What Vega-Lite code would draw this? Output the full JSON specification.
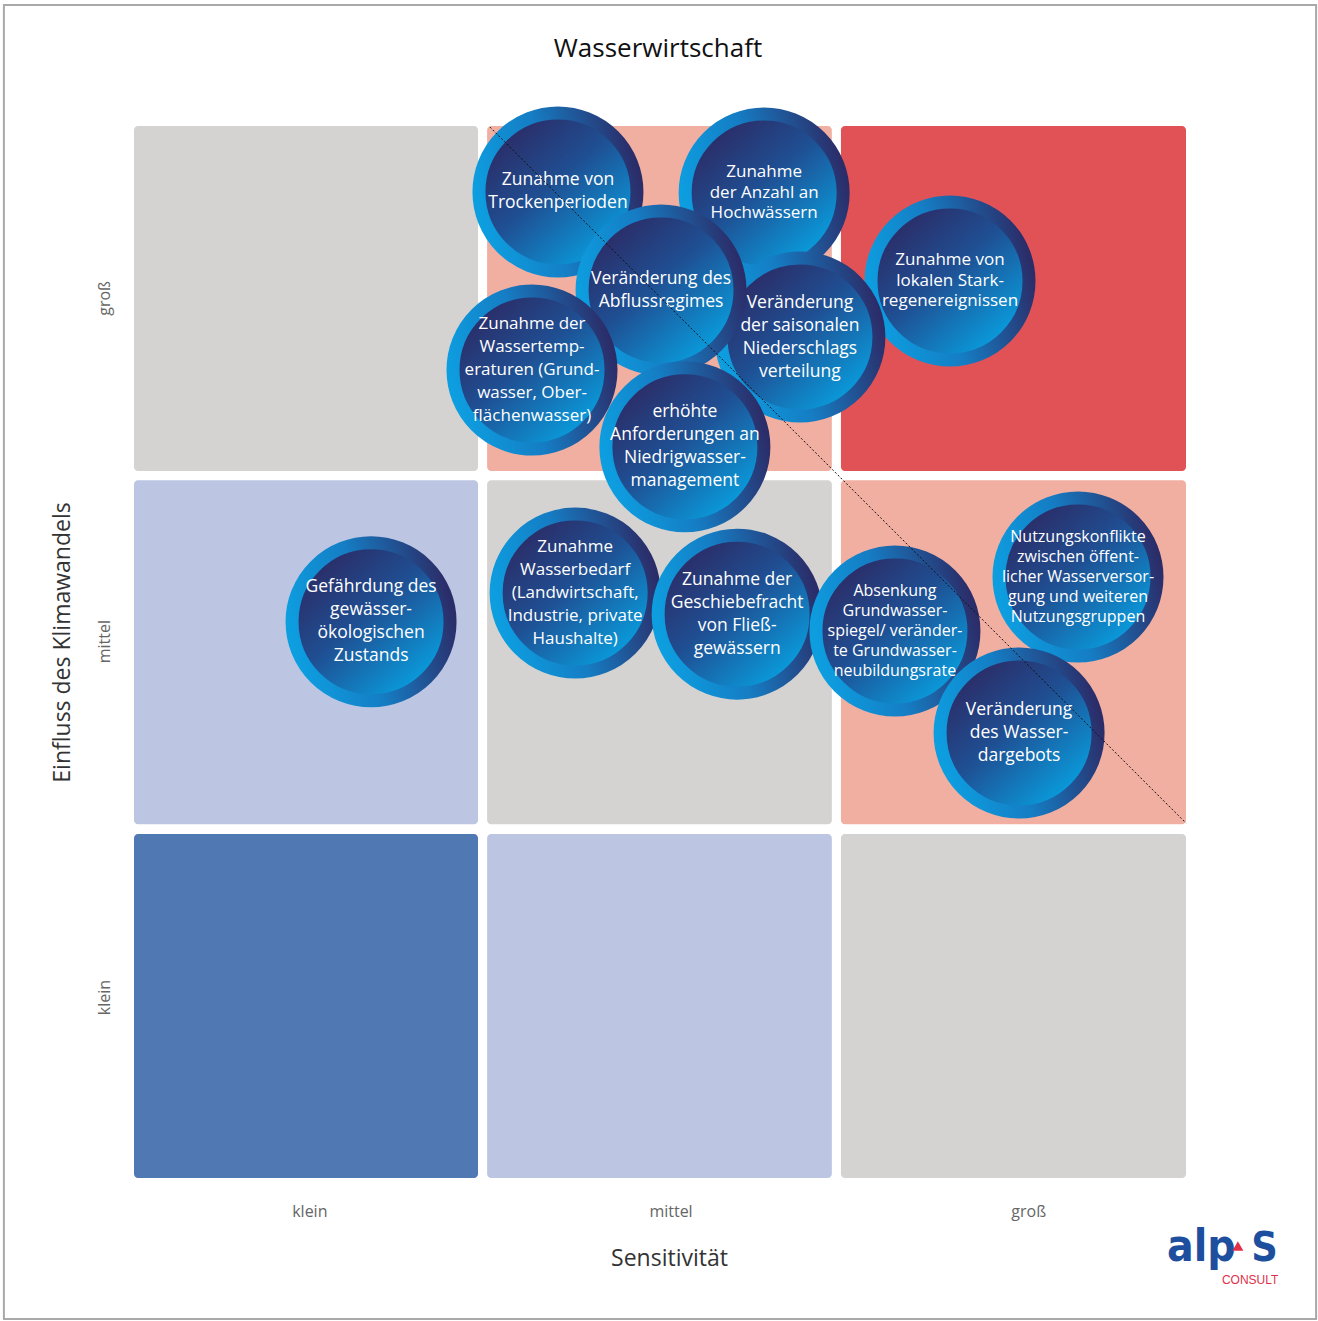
{
  "$schema": "https://vega.github.io/schema/vega-lite/v6.json",
  "autosize": {"type": "none"},
  "width": 1052,
  "height": 1052,
  "padding": {"left": 134, "top": 126, "right": 132, "bottom": 143},
  "background": "#ffffff",
  "title": {"text": "Wasserwirtschaft", "font": "Open Sans", "fontSize": 26, "fontWeight": "normal", "color": "#111111", "offset": -58, "anchor": "middle", "dx": -2},
  "config": {"view": {"stroke": null}},
  "datasets": {
    "felder": [
      {"x1": 0, "x2": 0.981, "y1": 2.016, "y2": 3.0, "stufe": "mittel"},
      {"x1": 1.007, "x2": 1.99, "y1": 2.016, "y2": 3.0, "stufe": "erhöht"},
      {"x1": 2.016, "x2": 3.0, "y1": 2.016, "y2": 3.0, "stufe": "hoch"},
      {"x1": 0, "x2": 0.981, "y1": 1.009, "y2": 1.99, "stufe": "gering"},
      {"x1": 1.007, "x2": 1.99, "y1": 1.009, "y2": 1.99, "stufe": "mittel"},
      {"x1": 2.016, "x2": 3.0, "y1": 1.009, "y2": 1.99, "stufe": "erhöht"},
      {"x1": 0, "x2": 0.981, "y1": 0, "y2": 0.981, "stufe": "sehr gering"},
      {"x1": 1.007, "x2": 1.99, "y1": 0, "y2": 0.981, "stufe": "gering"},
      {"x1": 2.016, "x2": 3.0, "y1": 0, "y2": 0.981, "stufe": "mittel"}
    ],
    "kreise": [
      {"x": 1.209, "y": 2.812, "kompakt": 0, "zeilen": 2, "label": "Zunahme von\nTrockenperioden"},
      {"x": 1.797, "y": 2.809, "kompakt": 1, "zeilen": 3, "label": "Zunahme\nder Anzahl an\nHochwässern"},
      {"x": 2.327, "y": 2.558, "kompakt": 1, "zeilen": 3, "label": "Zunahme von\nlokalen Stark-\nregenereignissen"},
      {"x": 1.899, "y": 2.398, "kompakt": 0, "zeilen": 4, "label": "Veränderung\nder saisonalen\nNiederschlags\nverteilung"},
      {"x": 1.503, "y": 2.532, "kompakt": 0, "zeilen": 2, "label": "Veränderung des\nAbflussregimes"},
      {"x": 1.135, "y": 2.304, "kompakt": 0, "zeilen": 5, "label": "Zunahme der\nWassertemp-\neraturen (Grund-\nwasser, Ober-\nflächenwasser)"},
      {"x": 1.571, "y": 2.085, "kompakt": 0, "zeilen": 4, "label": "erhöhte\nAnforderungen an\nNiedrigwasser-\nmanagement"},
      {"x": 0.676, "y": 1.586, "kompakt": 0, "zeilen": 4, "label": "Gefährdung des\ngewässer-\nökologischen\nZustands"},
      {"x": 1.258, "y": 1.668, "kompakt": 0, "zeilen": 5, "label": "Zunahme\nWasserbedarf\n(Landwirtschaft,\nIndustrie, private\nHaushalte)"},
      {"x": 1.72, "y": 1.608, "kompakt": 0, "zeilen": 4, "label": "Zunahme der\nGeschiebefracht\nvon Fließ-\ngewässern"},
      {"x": 2.17, "y": 1.56, "kompakt": 1, "zeilen": 5, "label": "Absenkung\nGrundwasser-\nspiegel/ veränder-\nte Grundwasser-\nneubildungsrate"},
      {"x": 2.692, "y": 1.714, "kompakt": 1, "zeilen": 5, "label": "Nutzungskonflikte\nzwischen öffent-\nlicher Wasserversor-\ngung und weiteren\nNutzungsgruppen"},
      {"x": 2.524, "y": 1.269, "kompakt": 0, "zeilen": 3, "label": "Veränderung\ndes Wasser-\ndargebots"}
    ],
    "diagonale": [
      {"x1": 1.015, "y1": 2.997, "x2": 3.0, "y2": 1.012}
    ],
    "rahmen": [
      {"x1": -0.371, "x2": 3.371, "y1": -0.402, "y2": 3.345}
    ],
    "logo": [
      {"teil": "alp", "x": 2.946, "y": -0.237},
      {"teil": "S", "x": 3.186, "y": -0.237},
      {"teil": "dreieck", "x": 3.148, "y": -0.194},
      {"teil": "CONSULT", "x": 3.183, "y": -0.302}
    ]
  },
  "layer": [
    {
      "data": {"name": "rahmen"},
      "mark": {"type": "rect", "filled": false, "stroke": "#a9a9a9", "strokeWidth": 2, "clip": false},
      "encoding": {
        "x": {"field": "x1", "type": "quantitative", "scale": {"domain": [0, 3], "nice": false, "zero": false},
          "axis": {"title": "Sensitivität", "values": [0.5, 1.53, 2.55], "labelExpr": "datum.value < 1 ? 'klein' : datum.value < 2 ? 'mittel' : 'groß'",
            "ticks": false, "domain": false, "grid": false, "labelPadding": 25, "labelFont": "Open Sans", "labelFontSize": 16, "labelColor": "#666666",
            "titleFont": "Open Sans", "titleFontSize": 23, "titleFontWeight": "normal", "titleColor": "#333333", "titlePadding": 28, "titleX": 535}},
        "x2": {"field": "x2"},
        "y": {"field": "y1", "type": "quantitative", "scale": {"domain": [0, 3], "nice": false, "zero": false},
          "axis": {"title": "Einfluss des Klimawandels", "values": [0.516, 1.531, 2.51], "labelExpr": "datum.value < 1 ? 'klein' : datum.value < 2 ? 'mittel' : 'groß'",
            "ticks": false, "domain": false, "grid": false, "labelAngle": -90, "labelAlign": "center", "labelBaseline": "bottom", "labelPadding": 22,
            "labelFont": "Open Sans", "labelFontSize": 16, "labelColor": "#666666",
            "titleFont": "Open Sans", "titleFontSize": 23, "titleFontWeight": "normal", "titleColor": "#333333", "titlePadding": 22, "titleY": 516}},
        "y2": {"field": "y2"}
      }
    },
    {
      "data": {"name": "felder"},
      "mark": {"type": "rect", "cornerRadius": 4},
      "encoding": {
        "x": {"field": "x1", "type": "quantitative"},
        "x2": {"field": "x2"},
        "y": {"field": "y1", "type": "quantitative"},
        "y2": {"field": "y2"},
        "color": {"field": "stufe", "type": "nominal", "legend": null,
          "scale": {"domain": ["sehr gering", "gering", "mittel", "erhöht", "hoch"], "range": ["#5079b4", "#bcc6e3", "#d4d3d2", "#f1afa2", "#e15257"]}}
      }
    },
    {
      "data": {"name": "kreise"},
      "mark": {"type": "point", "shape": "circle", "filled": true, "opacity": 1, "size": 24964, "strokeWidth": 13,
        "fill": {"gradient": "linear", "x1": 0.15, "y1": 0.1, "x2": 0.85, "y2": 0.9,
          "stops": [{"offset": 0, "color": "#2c2a64"}, {"offset": 0.45, "color": "#1f4f93"}, {"offset": 1, "color": "#07a2e2"}]},
        "stroke": {"gradient": "linear", "x1": 0, "y1": 0.6, "x2": 1, "y2": 0.35,
          "stops": [{"offset": 0, "color": "#0d9ee0"}, {"offset": 0.45, "color": "#157dc4"}, {"offset": 1, "color": "#2b2d69"}]}},
      "encoding": {
        "x": {"field": "x", "type": "quantitative"},
        "y": {"field": "y", "type": "quantitative"}
      }
    },
    {
      "data": {"name": "kreise"},
      "transform": [{"filter": "datum.kompakt == 0 && datum.zeilen == 2"}],
      "mark": {"type": "text", "font": "Open Sans", "fontSize": 17.5, "lineHeight": 23, "dy": -11.5, "fill": "#ffffff", "align": "center", "baseline": "middle", "lineBreak": "\n"},
      "encoding": {"x": {"field": "x", "type": "quantitative"}, "y": {"field": "y", "type": "quantitative"}, "text": {"field": "label"}}
    },
    {
      "data": {"name": "kreise"},
      "transform": [{"filter": "datum.kompakt == 0 && datum.zeilen == 3"}],
      "mark": {"type": "text", "font": "Open Sans", "fontSize": 17.5, "lineHeight": 23, "dy": -23, "fill": "#ffffff", "align": "center", "baseline": "middle", "lineBreak": "\n"},
      "encoding": {"x": {"field": "x", "type": "quantitative"}, "y": {"field": "y", "type": "quantitative"}, "text": {"field": "label"}}
    },
    {
      "data": {"name": "kreise"},
      "transform": [{"filter": "datum.kompakt == 0 && datum.zeilen == 4"}],
      "mark": {"type": "text", "font": "Open Sans", "fontSize": 17.5, "lineHeight": 23, "dy": -34.5, "fill": "#ffffff", "align": "center", "baseline": "middle", "lineBreak": "\n"},
      "encoding": {"x": {"field": "x", "type": "quantitative"}, "y": {"field": "y", "type": "quantitative"}, "text": {"field": "label"}}
    },
    {
      "data": {"name": "kreise"},
      "transform": [{"filter": "datum.kompakt == 0 && datum.zeilen == 5"}],
      "mark": {"type": "text", "font": "Open Sans", "fontSize": 17, "lineHeight": 23, "dy": -46, "fill": "#ffffff", "align": "center", "baseline": "middle", "lineBreak": "\n"},
      "encoding": {"x": {"field": "x", "type": "quantitative"}, "y": {"field": "y", "type": "quantitative"}, "text": {"field": "label"}}
    },
    {
      "data": {"name": "kreise"},
      "transform": [{"filter": "datum.kompakt == 1 && datum.zeilen == 3"}],
      "mark": {"type": "text", "font": "Open Sans", "fontSize": 17, "lineHeight": 20.5, "dy": -20.5, "fill": "#ffffff", "align": "center", "baseline": "middle", "lineBreak": "\n"},
      "encoding": {"x": {"field": "x", "type": "quantitative"}, "y": {"field": "y", "type": "quantitative"}, "text": {"field": "label"}}
    },
    {
      "data": {"name": "kreise"},
      "transform": [{"filter": "datum.kompakt == 1 && datum.zeilen == 5"}],
      "mark": {"type": "text", "font": "Open Sans", "fontSize": 16, "lineHeight": 20, "dy": -40, "fill": "#ffffff", "align": "center", "baseline": "middle", "lineBreak": "\n"},
      "encoding": {"x": {"field": "x", "type": "quantitative"}, "y": {"field": "y", "type": "quantitative"}, "text": {"field": "label"}}
    },
    {
      "data": {"name": "diagonale"},
      "mark": {"type": "rule", "stroke": "#111111", "strokeWidth": 1, "strokeDash": [2, 2]},
      "encoding": {
        "x": {"field": "x1", "type": "quantitative"},
        "y": {"field": "y1", "type": "quantitative"},
        "x2": {"field": "x2"},
        "y2": {"field": "y2"}
      }
    },
    {
      "data": {"name": "logo"},
      "transform": [{"filter": "datum.teil == 'alp'"}],
      "mark": {"type": "text", "text": "alp", "font": "DejaVu Sans Condensed, DejaVu Sans, sans-serif", "fontWeight": "bold", "fontSize": 44, "fill": "#1d4f9e", "align": "left", "baseline": "alphabetic"},
      "encoding": {"x": {"field": "x", "type": "quantitative"}, "y": {"field": "y", "type": "quantitative"}}
    },
    {
      "data": {"name": "logo"},
      "transform": [{"filter": "datum.teil == 'S'"}],
      "mark": {"type": "text", "text": "S", "font": "DejaVu Sans Condensed, DejaVu Sans, sans-serif", "fontWeight": "bold", "fontSize": 41, "fill": "#1d4f9e", "align": "left", "baseline": "alphabetic"},
      "encoding": {"x": {"field": "x", "type": "quantitative"}, "y": {"field": "y", "type": "quantitative"}}
    },
    {
      "data": {"name": "logo"},
      "transform": [{"filter": "datum.teil == 'dreieck'"}],
      "mark": {"type": "point", "shape": "triangle-up", "filled": true, "opacity": 1, "size": 120, "fill": "#e0304a"},
      "encoding": {"x": {"field": "x", "type": "quantitative"}, "y": {"field": "y", "type": "quantitative"}}
    },
    {
      "data": {"name": "logo"},
      "transform": [{"filter": "datum.teil == 'CONSULT'"}],
      "mark": {"type": "text", "text": "CONSULT", "font": "Liberation Sans", "fontSize": 12, "fill": "#e0304a", "align": "center", "baseline": "alphabetic"},
      "encoding": {"x": {"field": "x", "type": "quantitative"}, "y": {"field": "y", "type": "quantitative"}}
    }
  ]
}
